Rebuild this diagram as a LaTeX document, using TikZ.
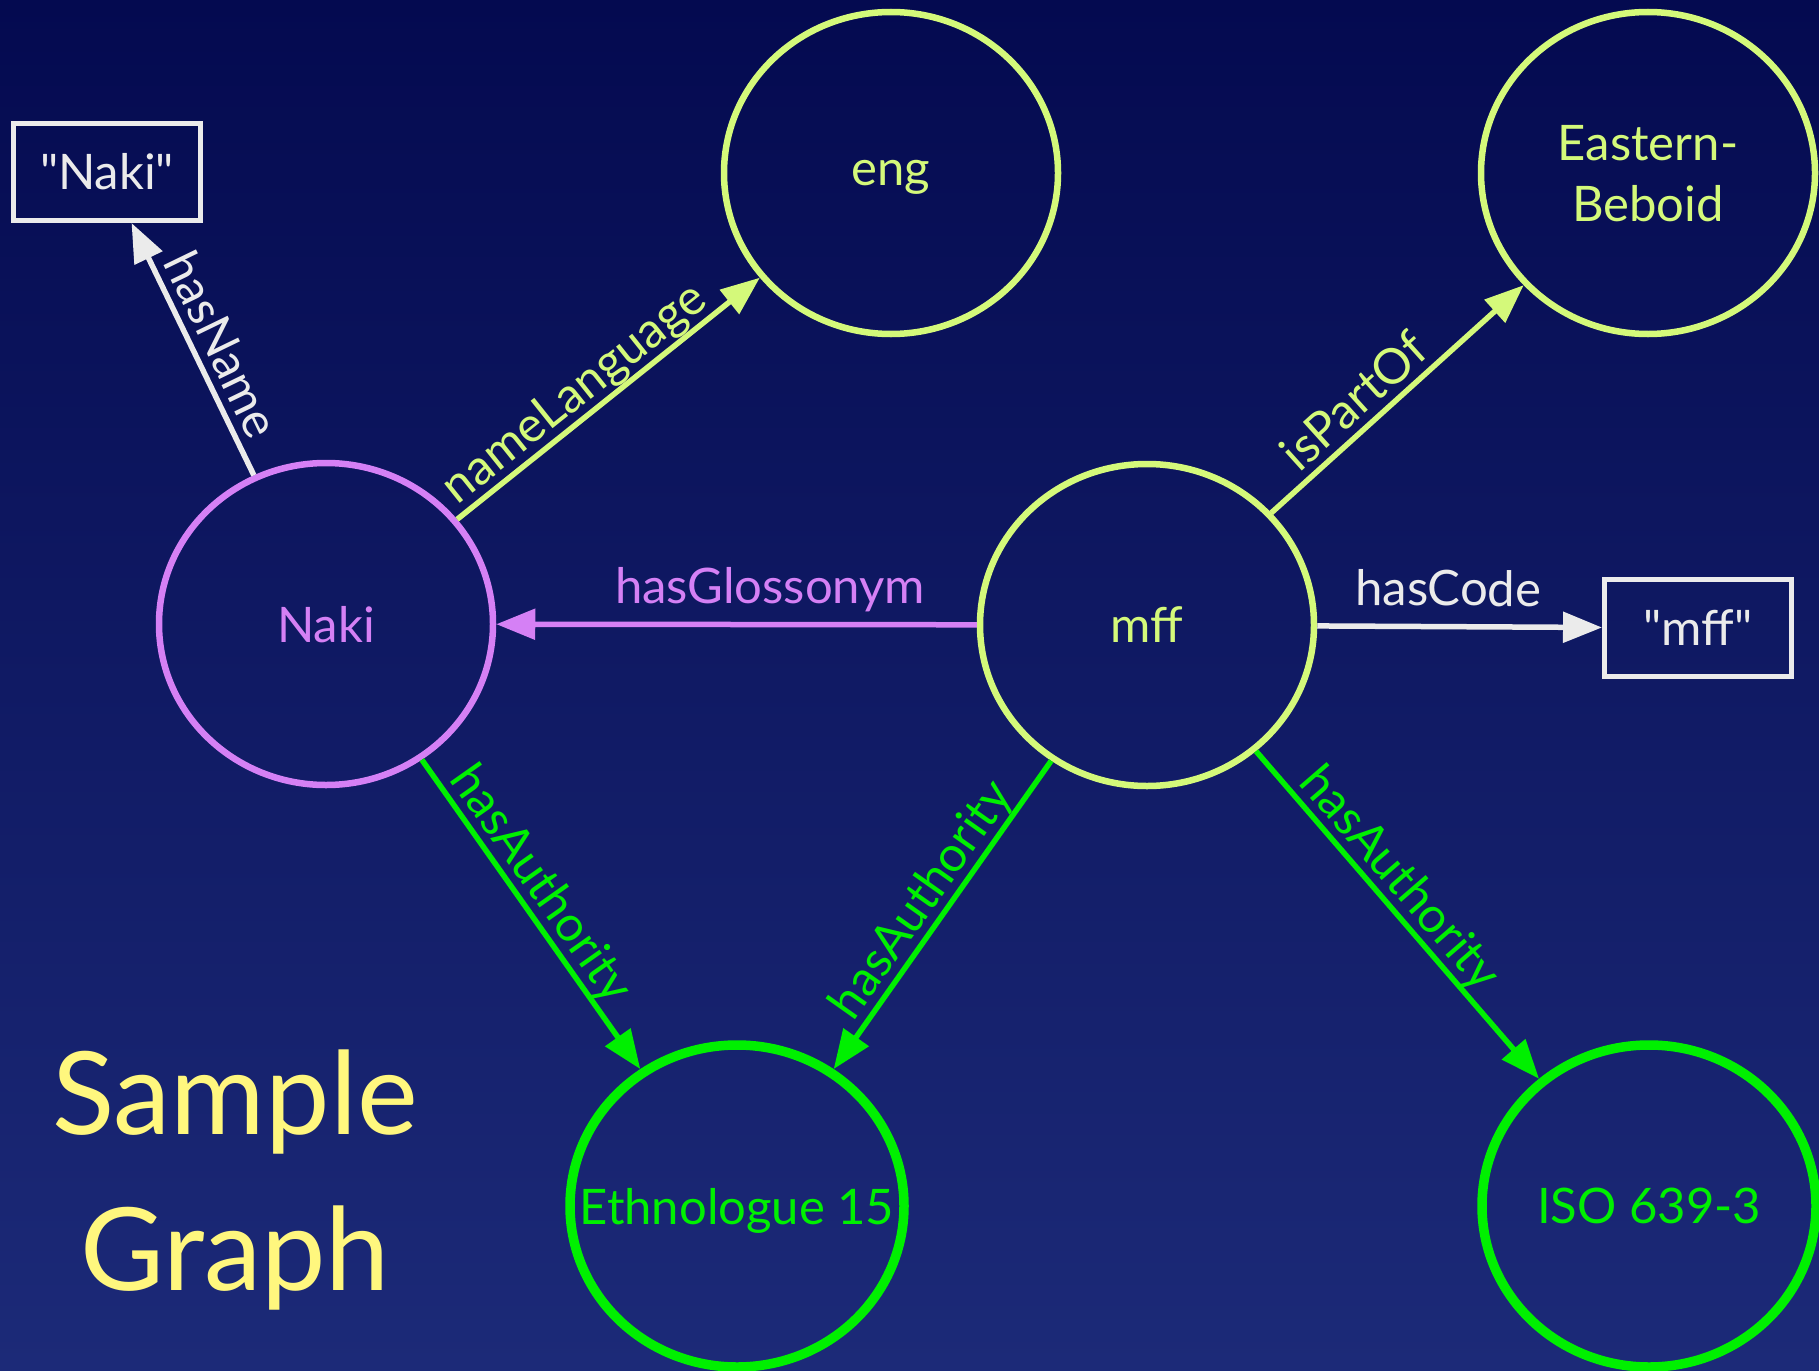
\documentclass[tikz,border=0pt]{standalone}
\usepackage{fontspec}
\setmainfont{Lato}[Ligatures=TeXOff]
\usetikzlibrary{shapes.geometric,arrows.meta}
\definecolor{bgtop}{HTML}{040A50}
\definecolor{bgbot}{HTML}{1C2A78}
\definecolor{yg}{HTML}{D4F97A}
\definecolor{pur}{HTML}{D580F5}
\definecolor{grn}{HTML}{00F000}
\definecolor{wht}{HTML}{EBEBEB}
\definecolor{ttl}{HTML}{FFF77E}
\begin{document}
\begin{tikzpicture}[x=1pt,y=-1pt,
  every node/.style={font=\fontsize{49}{61}\selectfont},
  circ/.style={ellipse, minimum width=334pt, minimum height=322pt, line width=6.5pt, inner sep=0pt, text depth=0pt},
  gcirc/.style={circ, line width=9.5pt, draw=grn, text=grn},
  lit/.style={rectangle, draw=wht, line width=5pt, minimum width=187pt, minimum height=97pt, text=wht, inner sep=0pt},
  conn/.style={line width=5.5pt, -{Triangle[length=39pt,width=30pt]}},
  lbl/.style={sloped, text depth=0pt, inner sep=0pt, above=8pt}
]
\shade[top color=bgtop, bottom color=bgbot] (0,0) rectangle (1819,1370);
\useasboundingbox (0,0) rectangle (1819,1370);

\node[circ, draw=pur, text=pur] (naki) at (326,624) {Naki};
\node[circ, draw=yg, text=yg] (eng) at (891,173) {eng};
\node[circ, draw=yg, text=yg, align=center] (eb) at (1648,173) {Eastern-\\Beboid};
\node[circ, draw=yg, text=yg] (mff) at (1147,625) {mff};
\node[gcirc] (eth) at (737,1206) {\makebox[0pt]{Ethnologue 15}};
\node[gcirc] (iso) at (1649,1206) {ISO 639-3};
\node[lit] (nakibox) at (107,172) {"Naki"};
\node[lit] (mffbox) at (1698,628) {"mff"};

\node[text=ttl, align=center, font=\fontsize{115}{146}\selectfont] (title) at (235,1180) {Sample\\[10pt]Graph};

\draw[conn, draw=wht, fill=wht] (naki) -- node[lbl, pos=0.47, text=wht] {hasName} (nakibox);
\draw[conn, draw=yg, fill=yg] (naki) -- node[lbl, pos=0.44, text=yg] {nameLanguage} (eng);
\draw[conn, draw=yg, fill=yg] (mff) -- node[lbl, pos=0.4, text=yg] {isPartOf} (eb);
\draw[conn, draw=pur, fill=pur] (mff) -- node[lbl, pos=0.43, text=pur, above=10pt] {hasGlossonym} (naki);
\draw[conn, draw=wht, fill=wht] (mff) -- node[lbl, pos=0.46, text=wht, above=10pt] {hasCode} (mffbox);
\draw[conn, draw=grn, fill=grn] (naki) -- node[lbl, pos=0.45, text=grn] {hasAuthority} (eth);
\draw[conn, draw=grn, fill=grn] (mff) -- node[lbl, pos=0.5, text=grn] {hasAuthority} (eth);
\draw[conn, draw=grn, fill=grn] (mff) -- node[lbl, pos=0.44, text=grn] {hasAuthority} (iso);
\end{tikzpicture}
\end{document}
